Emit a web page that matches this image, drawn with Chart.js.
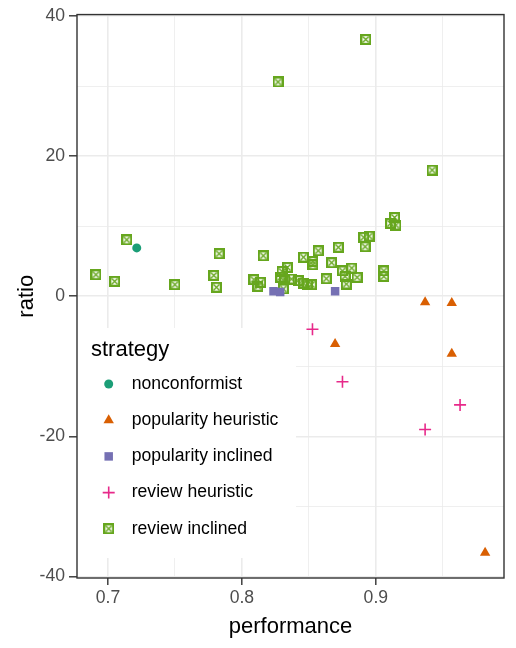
<!DOCTYPE html>
<html>
<head>
<meta charset="utf-8">
<script src="https://cdn.jsdelivr.net/npm/chart.js@4"></script>
<style>
  html, body { margin:0; padding:0; background:#fff; }
  canvas { display:block; }
</style>
</head>
<body>
<canvas id="scatterChart" width="516" height="648"></canvas>
<script>
// === DATA (performance on x, ratio on y) ===
const strategies = ["nonconformist", "popularity heuristic", "popularity inclined", "review heuristic", "review inclined"];

const nonconformistPerf  = [0.7215];
const nonconformistRatio = [6.9];

const popHeuristicPerf  = [0.8696, 0.9368, 0.9567, 0.9567, 0.9816];
const popHeuristicRatio = [-6.8, -0.85, -0.95, -8.2, -36.6];

const popInclinedPerf  = [0.8236, 0.8286, 0.8696];
const popInclinedRatio = [0.71, 0.61, 0.71];

const revHeuristicPerf  = [0.8527, 0.8751, 0.9368, 0.9629];
const revHeuristicRatio = [-4.7, -12.2, -19.0, -15.5];

const revInclinedPerf = [
  0.691, 0.705, 0.714, 0.750, 0.779, 0.781, 0.783, 0.809, 0.814, 0.812,
  0.816, 0.827, 0.829, 0.830, 0.834, 0.832, 0.831, 0.837, 0.842, 0.846,
  0.846, 0.849, 0.852, 0.853, 0.853, 0.857, 0.863, 0.867, 0.872, 0.875,
  0.877, 0.878, 0.882, 0.886, 0.891, 0.892, 0.8925, 0.895, 0.906, 0.906,
  0.911, 0.914, 0.915, 0.942
];
const revInclinedRatio = [
  3.08, 2.13, 8.05, 1.66, 2.98, 1.28, 6.07, 2.37, 1.99, 1.42,
  5.78, 30.58, 2.70, 3.55, 4.12, 2.46, 1.04, 2.46, 2.23, 1.89,
  5.58, 1.75, 1.66, 4.97, 4.50, 6.49, 2.51, 4.79, 6.99, 3.62,
  2.84, 1.75, 4.02, 2.70, 8.41, 7.07, 36.65, 8.58, 3.62, 2.84,
  10.41, 11.25, 10.16, 18.01
];

const xTickLabels = [0.7, 0.8, 0.9];
const yTickLabels = [-40, -20, 0, 20, 40];

const colors = ["#1B9E77", "#D95F02", "#7570B3", "#E7298A", "#66A61E"];
const FONT = '"Liberation Sans", Arial, Helvetica, sans-serif';

function toPoints(xs, ys) {
  return xs.map((x, i) => ({ x: x, y: ys[i] }));
}

// boxed cross marker (ggplot shape 7)
function boxCross(color) {
  const c = document.createElement("canvas");
  c.width = 11; c.height = 11;
  const g = c.getContext("2d");
  g.strokeStyle = color;
  g.lineWidth = 2.2;
  g.strokeRect(1.1, 1.1, 8.8, 8.8);
  g.lineWidth = 1.4;
  g.beginPath();
  g.moveTo(2.5, 2.5); g.lineTo(8.5, 8.5);
  g.moveTo(8.5, 2.5); g.lineTo(2.5, 8.5);
  g.stroke();
  return c;
}

const isMajorX = v => xTickLabels.some(t => Math.abs(t - v) < 1e-6);
const isMajorY = v => yTickLabels.some(t => Math.abs(t - v) < 1e-6);

// === IN-PANEL LEGEND + PANEL BORDER ===
const insideLegend = {
  id: "insideLegend",
  afterDatasetsDraw(chart) {
    const ctx = chart.ctx;
    const area = chart.chartArea;
    ctx.save();
    ctx.fillStyle = "#fff";
    ctx.fillRect(area.left, 328, 296 - area.left, 230);

    ctx.fillStyle = "#000";
    ctx.font = "22px " + FONT;
    ctx.textBaseline = "middle";
    ctx.textAlign = "left";
    ctx.fillText("strategy", 91, 350);

    chart.data.datasets.forEach((ds, i) => {
      const y = 384 + i * 36.2;
      ctx.save();
      ctx.fillStyle = ds.backgroundColor;
      ctx.strokeStyle = ds.borderColor;
      ctx.lineWidth = ds.borderWidth;
      Chart.helpers.drawPoint(ctx, {
        pointStyle: ds.pointStyle,
        radius: ds.pointRadius,
        borderWidth: ds.borderWidth,
        rotation: 0
      }, 108.7, y);
      ctx.restore();
      ctx.fillStyle = "#000";
      ctx.font = "17.6px " + FONT;
      ctx.fillText(ds.label, 131.7, y);
    });

    // panel border
    ctx.strokeStyle = "#333333";
    ctx.lineWidth = 1.4;
    ctx.strokeRect(area.left, area.top, area.right - area.left, area.bottom - area.top);
    ctx.restore();
  }
};

const gridStyle = (isMajor) => ({
  color: "#EBEBEB",
  lineWidth: ctx => isMajor(ctx.tick.value) ? 1.6 : 0.8,
  tickColor: ctx => isMajor(ctx.tick.value) ? "#333333" : "rgba(0,0,0,0)",
  tickWidth: 1.4,
  drawTicks: true
});

const ctx = document.getElementById("scatterChart").getContext("2d");
new Chart(ctx, {
  type: "scatter",
  data: {
    datasets: [
      { label: strategies[0], data: toPoints(nonconformistPerf, nonconformistRatio),
        pointStyle: "circle", pointRadius: 4.5, backgroundColor: colors[0], borderColor: colors[0], borderWidth: 0 },
      { label: strategies[1], data: toPoints(popHeuristicPerf, popHeuristicRatio),
        pointStyle: "triangle", pointRadius: 6, backgroundColor: colors[1], borderColor: colors[1], borderWidth: 0 },
      { label: strategies[2], data: toPoints(popInclinedPerf, popInclinedRatio),
        pointStyle: "rect", pointRadius: 6, backgroundColor: colors[2], borderColor: colors[2], borderWidth: 0 },
      { label: strategies[3], data: toPoints(revHeuristicPerf, revHeuristicRatio),
        pointStyle: "cross", pointRadius: 6, backgroundColor: colors[3], borderColor: colors[3], borderWidth: 1.6 },
      { label: strategies[4], data: toPoints(revInclinedPerf, revInclinedRatio),
        pointStyle: boxCross(colors[4]), pointRadius: 5, backgroundColor: colors[4], borderColor: colors[4], borderWidth: 0 }
    ]
  },
  options: {
    responsive: false,
    animation: false,
    layout: { padding: { left: 0, top: 12, right: 12, bottom: 0 } },
    plugins: { legend: { display: false }, tooltip: { enabled: false } },
    scales: {
      x: {
        type: "linear",
        min: 0.6769, max: 0.9957,
        afterFit: s => { s.height = 70; },
        border: { display: false },
        grid: Object.assign(gridStyle(isMajorX), { tickLength: 7 }),
        ticks: {
          stepSize: 0.05, includeBounds: false, autoSkip: false, maxRotation: 0,
          padding: 3, color: "#4D4D4D", font: { family: FONT, size: 17.6 },
          callback: v => isMajorX(v) ? v.toFixed(1) : ""
        },
        title: { display: true, text: "performance", color: "#000",
                 font: { family: FONT, size: 22 }, padding: { top: 0, bottom: 8 } }
      },
      y: {
        type: "linear",
        min: -40.2, max: 40.2,
        afterFit: s => { s.width = 77; },
        border: { display: false },
        grid: Object.assign(gridStyle(isMajorY), { tickLength: 8 }),
        ticks: {
          stepSize: 10, includeBounds: false, autoSkip: false,
          padding: 4, color: "#4D4D4D", font: { family: FONT, size: 17.6 },
          callback: v => isMajorY(v) ? String(v) : ""
        },
        title: { display: true, text: "ratio", color: "#000",
                 font: { family: FONT, size: 22 }, padding: { top: 14, bottom: 0 } }
      }
    }
  },
  plugins: [insideLegend]
});
</script>
</body>
</html>
